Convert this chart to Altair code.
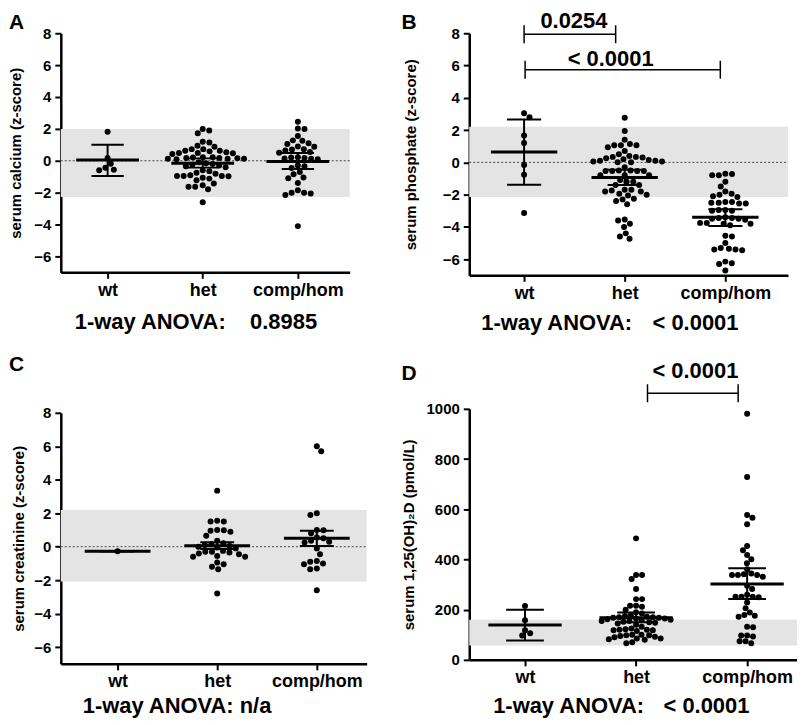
import altair as alt
import pandas as pd

FONT = "Liberation Sans"
CATS = ["wt", "het", "comp/hom"]

# ---------------- Panel A : serum calcium (z-score) ----------------
A_WT = [1.82, 0.18, -0.19, -0.44, -0.56, -0.60]
A_HET = [2.0, 1.9, 1.72, 1.2, 1.15, 0.94, 0.88, 0.73, 0.73, 0.63, 0.63, 0.59, 0.53,
         0.49, 0.49, 0.47, 0.43, 0.22, 0.22, 0.2, 0.18, 0.18, 0.16, 0.12, 0.12, 0.12,
         0.1, -0.1, -0.15, -0.2, -0.25, -0.3, -0.35, -0.4, -0.6, -0.65, -0.75, -0.81,
         -0.91, -0.95, -0.95, -0.95, -0.97, -1.06, -1.12, -1.22, -1.43, -1.53, -1.63,
         -1.63, -1.78, -2.6]
A_COMP = [2.45, 2.02, 2.0, 1.56, 1.28, 1.25, 1.1, 1.05, 0.9, 0.88, 0.72, 0.7, 0.65,
          0.55, 0.5, 0.22, 0.2, 0.18, 0.15, 0.12, 0.1, -0.3, -0.35, -0.45, -0.7,
          -0.85, -1.05, -1.1, -1.4, -1.85, -2.0, -2.0, -2.05, -2.15, -4.1]
A_MEAN = [0.05, -0.15, -0.05]
A_LO = [-0.96, -0.43, -0.52]
A_HI = [1.0, 0.15, 0.48]
A_BAND = [-2.27, 2.0]

# ---------------- Panel B : serum phosphate (z-score) ----------------
B_WT = [3.04, 2.8, 1.66, 1.2, -0.16, -0.76, -3.14]
B_HET = [2.76, 1.94, 1.4, 1.14, 1.06, 1.06, 1.06, 0.94, 0.7, 0.5, 0.4, 0.34, 0.34, 0.3,
         0.26, 0.2, 0.14, 0.1, 0.1, 0.06, 0.06, 0.0, 0.0, -0.3, -0.5, -0.5, -0.54, -0.54,
         -0.54, -0.54, -0.8, -0.8, -0.8, -1.1, -1.2, -1.2, -1.4, -1.4, -1.7, -1.7, -1.74,
         -1.8, -1.8, -1.94, -2.0, -2.06, -2.26, -2.3, -2.4, -2.6, -3.54, -3.6, -3.8, -4.0,
         -4.4, -4.6, -4.74]
B_COMP = [-0.7, -0.8, -0.8, -0.72, -1.2, -1.5, -1.8, -1.95, -2.0, -2.1, -2.15, -2.45,
          -2.5, -2.5, -2.55, -2.55, -2.45, -2.95, -3.0, -3.0, -2.95, -3.4, -3.45, -3.5,
          -3.5, -3.45, -3.55, -3.75, -3.8, -3.8, -3.75, -3.9, -4.6, -4.55, -5.0, -5.3,
          -5.4, -5.45, -5.4, -5.35, -6.25, -6.15, -6.3, -6.7]
B_MEAN = [0.64, -0.94, -3.4]
B_LO = [-1.38, -1.4, -3.94]
B_HI = [2.66, -0.46, -2.9]
B_BAND = [-2.14, 2.2]
B_BR_X1 = [1.0, 1.01]
B_BR_X2 = [1.91, 2.95]
B_BR_Y = [7.94, 5.74]
B_BR_LABEL = ["0.0254", "< 0.0001"]
B_BR_LX = [1.495, 1.86]
B_BR_LY = [8.32, 6.0]

# ---------------- Panel C : serum creatinine (z-score) ----------------
C_WT = [-0.27]
C_HET = [3.35, 1.55, 1.5, 1.5, 1.0, 0.98, 0.95, 0.9, 0.65, 0.35, 0.2, 0.15, 0.1, 0.05,
         0.0, -0.05, -0.1, -0.25, -0.3, -0.3, -0.35, -0.4, -0.45, -0.55, -0.6, -0.6,
         -0.95, -1.05, -1.2, -1.35, -2.8]
C_COMP = [6.0, 5.7, 2.0, 1.9, 1.0, 0.98, 0.8, 0.55, 0.5, 0.35, 0.3, 0.25, -0.1, -0.45,
          -0.85, -0.9, -1.0, -1.05, -1.3, -1.35, -2.6]
C_MEAN = [-0.27, 0.06, 0.5]
C_LO = [-0.27, -0.14, 0.04]
C_HI = [-0.27, 0.26, 0.95]
C_BAND = [-2.08, 2.2]

# ---------------- Panel D : serum 1,25(OH)2D (pmol/L) ----------------
D_WT = [215, 158, 118, 106, 97]
D_HET = [484, 338, 338, 322, 282, 242, 242, 216, 212, 216, 200, 190, 185, 178, 175, 172,
         170, 170, 168, 168, 165, 165, 162, 160, 158, 155, 155, 152, 150, 148, 145, 140,
         132, 125, 122, 120, 120, 118, 118, 115, 100, 100, 98, 98, 95, 92, 90, 85, 85,
         82, 80, 70, 66]
D_COMP = [980, 728, 577, 566, 540, 454, 437, 418, 401, 385, 361, 344, 341, 338, 338, 338,
          331, 295, 282, 259, 251, 251, 251, 249, 229, 206, 189, 179, 176, 172, 132, 130,
          97, 97, 93, 74, 74, 66]
D_MEAN = [139, 168, 302]
D_LO = [77, 150, 242]
D_HI = [200, 189, 365]
D_BAND = [57, 160]
D_BR_X1 = [2.103]
D_BR_X2 = [2.919]
D_BR_Y = [1062]
D_BR_LABEL = ["< 0.0001"]
D_BR_LX = [2.534]
D_BR_LY = [1122]

MEAN_HALF = 0.33
CAP_HALF = 0.17


def swarm(vals, ppu, diam):
    """Simple deterministic beeswarm: returns horizontal pixel offsets."""
    placed = []
    out = [0.0] * len(vals)
    order = sorted(range(len(vals)), key=lambda i: -vals[i])
    flip = 1
    for i in order:
        y = vals[i] * ppu
        intervals = []
        cands = [0.0]
        for dx, yy in placed:
            dy = abs(y - yy)
            if dy < diam:
                h = (diam * diam - dy * dy) ** 0.5
                intervals.append((dx - h, dx + h))
                cands += [dx - h, dx + h]
        cands.sort(key=lambda c: (round(abs(c), 3), -flip * c))
        best = 0.0
        for c in cands:
            if all(not (a + 1e-6 < c < b - 1e-6) for a, b in intervals):
                best = c
                break
        if best != 0:
            flip = -flip
        out[i] = best
        placed.append((best, y))
    return out


def panel(groups, mean, lo, hi, band, xdom, ydom, yvals, w, h, title, tpad,
          letter, letter_xy, anova, zero=True, brackets=None, yfmt=None, dot_d=6.7):
    xs = alt.Scale(domain=xdom, nice=False, zero=False)
    ys = alt.Scale(domain=ydom, nice=False, zero=False)
    label_expr = " : ".join(
        [f"datum.value == {i + 1} ? '{c}'" for i, c in enumerate(CATS[:-1])]
    ) + f" : '{CATS[-1]}'"
    xaxis = alt.Axis(values=[1, 2, 3], labelExpr=label_expr, grid=False,
                     labelFontSize=18, labelPadding=3, labelFlush=False,
                     labelOverlap=False, tickSize=6)
    ykw = dict(values=yvals, grid=False, labelFontSize=15, labelPadding=4,
               labelFlush=False, labelOverlap=False, tickSize=6,
               titlePadding=tpad, titleFontSize=15)
    if yfmt:
        ykw["format"] = yfmt
    yaxis = alt.Axis(**ykw)

    def X(f):
        return alt.X(f, type="quantitative", scale=xs, axis=xaxis, title=None)

    def Y(f):
        return alt.Y(f, type="quantitative", scale=ys, axis=yaxis, title=title)

    ppu_y = h / (ydom[1] - ydom[0])
    ppu_x = w / (xdom[1] - xdom[0])

    rows = []
    for gi, vals in enumerate(groups):
        offs = swarm(vals, ppu_y, dot_d)
        for v, o in zip(vals, offs):
            rows.append({"x": gi + 1 + o / ppu_x, "y": v})
    pts = pd.DataFrame(rows)

    band_df = pd.DataFrame({"x": [xdom[0]], "x2": [xdom[1]], "y": [band[0]], "y2": [band[1]]})
    layers = [
        alt.Chart(band_df).mark_rect(color="#e4e4e4").encode(
            x=X("x"), x2="x2", y=Y("y"), y2="y2")
    ]
    if zero:
        zdf = pd.DataFrame({"x": [xdom[0]], "x2": [xdom[1]], "y": [0]})
        layers.append(alt.Chart(zdf).mark_rule(color="#444", strokeWidth=1,
                                               strokeDash=[2, 2]).encode(
            x=X("x"), x2="x2", y=Y("y")))
    layers.append(alt.Chart(pts).mark_circle(size=36, color="#000", opacity=1).encode(
        x=X("x"), y=Y("y")))

    cats = [1, 2, 3]
    eb = pd.DataFrame({"x": cats, "lo": lo, "hi": hi})
    layers.append(alt.Chart(eb).mark_rule(color="#000", strokeWidth=2).encode(
        x=X("x"), y=Y("lo"), y2="hi"))
    caps = pd.DataFrame({
        "x": [c - CAP_HALF for c in cats] * 2,
        "x2": [c + CAP_HALF for c in cats] * 2,
        "y": list(lo) + list(hi),
    })
    layers.append(alt.Chart(caps).mark_rule(color="#000", strokeWidth=2).encode(
        x=X("x"), x2="x2", y=Y("y")))
    mdf = pd.DataFrame({"x": [c - MEAN_HALF for c in cats],
                        "x2": [c + MEAN_HALF for c in cats], "y": mean})
    layers.append(alt.Chart(mdf).mark_rule(color="#000", strokeWidth=3).encode(
        x=X("x"), x2="x2", y=Y("y")))

    if brackets:
        bx1, bx2, by, blab, blx, bly = brackets
        cap = 9.0 / ppu_y
        hl = pd.DataFrame({"x": bx1, "x2": bx2, "y": by})
        layers.append(alt.Chart(hl).mark_rule(color="#000", strokeWidth=1.5).encode(
            x=X("x"), x2="x2", y=Y("y")))
        vt = pd.DataFrame({"x": list(bx1) + list(bx2),
                           "y": [v - cap for v in by] * 2,
                           "y2": [v + cap for v in by] * 2})
        layers.append(alt.Chart(vt).mark_rule(color="#000", strokeWidth=1.5).encode(
            x=X("x"), y=Y("y"), y2="y2"))
        tl = pd.DataFrame({"x": blx, "y": bly, "t": blab})
        layers.append(alt.Chart(tl).mark_text(fontSize=22, fontWeight="bold",
                                              font=FONT, color="#000",
                                              align="center",
                                              baseline="alphabetic").encode(
            x=X("x"), y=Y("y"), text="t:N"))

    one = pd.DataFrame({"k": [0]})
    layers.append(alt.Chart(one).mark_text(fontSize=21, fontWeight="bold", font=FONT,
                                           color="#000", align="left",
                                           baseline="alphabetic").encode(
        x=alt.value(letter_xy[0]), y=alt.value(letter_xy[1]), text=alt.value(letter)))
    for txt, tx, ty in anova:
        layers.append(alt.Chart(one).mark_text(fontSize=22, fontWeight="bold", font=FONT,
                                               color="#000", align="left",
                                               baseline="alphabetic").encode(
            x=alt.value(tx), y=alt.value(ty), text=alt.value(txt)))

    return alt.layer(*layers).properties(width=w, height=h)


Z_TICKS = [-6, -4, -2, 0, 2, 4, 6, 8]

pA = panel([A_WT, A_HET, A_COMP], A_MEAN, A_LO, A_HI, A_BAND,
           [0.508, 3.545], [-7, 8], Z_TICKS, 290, 240,
           "serum calcium (z-score)", 10, "A", (-52, -4),
           [("1-way ANOVA:", 14, 297), ("0.8985", 190, 297)])

pB = panel([B_WT, B_HET, B_COMP], B_MEAN, B_LO, B_HI, B_BAND,
           [0.455, 3.623], [-7, 8], Z_TICKS, 320, 243,
           "serum phosphate (z-score)", 24, "B", (-68, -4),
           [("1-way ANOVA:", 12, 298), ("< 0.0001", 184, 298)],
           brackets=(B_BR_X1, B_BR_X2, B_BR_Y, B_BR_LABEL, B_BR_LX, B_BR_LY))

pC = panel([C_WT, C_HET, C_COMP], C_MEAN, C_LO, C_HI, C_BAND,
           [0.43, 3.5], [-7, 8], Z_TICKS, 307, 252,
           "serum creatinine (z-score)", 7, "C", (-52, -42),
           [("1-way ANOVA: n/a", 22, 301)])

pD = panel([D_WT, D_HET, D_COMP], D_MEAN, D_LO, D_HI, D_BAND,
           [0.498, 3.449], [0, 1000], [0, 200, 400, 600, 800, 1000], 329, 252,
           "serum 1,25(OH)\u2082D (pmol/L)", 10, "D", (-68, -29),
           [("1-way ANOVA:", 24, 305), ("< 0.0001", 195, 305)], zero=False,
           brackets=(D_BR_X1, D_BR_X2, D_BR_Y, D_BR_LABEL, D_BR_LX, D_BR_LY),
           yfmt="d", dot_d=6.0)

col1 = alt.vconcat(pA, pC, spacing=21)
col2 = alt.vconcat(pB, pD, spacing=26)

chart = alt.hconcat(col1, col2, spacing=33).properties(
    padding={"left": 0, "top": 0, "right": 0, "bottom": 0}
).configure_view(
    stroke=None
).configure_axis(
    domainColor="#000", domainWidth=2.5, tickColor="#000", tickWidth=2,
    labelFont=FONT, labelFontWeight="bold", labelColor="#000",
    titleFont=FONT, titleFontWeight="bold", titleColor="#000",
).configure_axisX(labelFontSize=18).configure_axisY(labelFontSize=15).configure_text(font=FONT)

chart.save("out.html", embed_options={"renderer": "svg", "actions": False})
